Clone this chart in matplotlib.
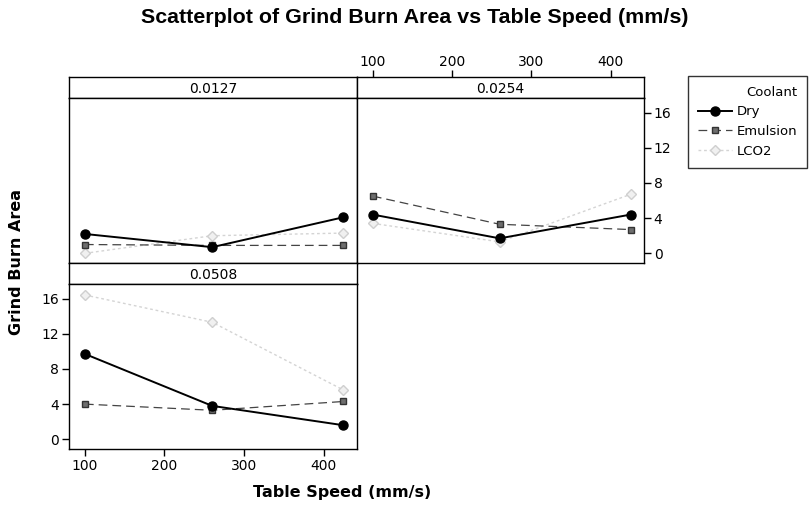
import matplotlib
matplotlib.use('Agg')
from matplotlib import pyplot
from matplotlib.lines import Line2D

# Data #
speed = [100, 260, 425]
feeds = ['0.0127', '0.0254', '0.0508']
coolants = ['Dry', 'Emulsion', 'LCO2']
dry_0127  = [2.2, 0.7, 4.1]
emul_0127 = [1.0, 0.9, 0.9]
lco2_0127 = [0.0, 2.0, 2.3]
dry_0254  = [4.4, 1.7, 4.4]
emul_0254 = [6.5, 3.3, 2.7]
lco2_0254 = [3.4, 1.3, 6.7]
dry_0508  = [9.7, 3.8, 1.6]
emul_0508 = [4.0, 3.3, 4.3]
lco2_0508 = [16.4, 13.3, 5.6]
panels = {'0.0127': (dry_0127, emul_0127, lco2_0127),
          '0.0254': (dry_0254, emul_0254, lco2_0254),
          '0.0508': (dry_0508, emul_0508, lco2_0508)}
x_ticks = [100, 200, 300, 400]
y_ticks = [0, 4, 8, 12, 16]

# Styles #
styles = {
    'Dry':      dict(color='black', ls='-', lw=1.4, marker='o', ms=6.5, mfc='black', mec='black', zorder=5),
    'Emulsion': dict(color='#444444', ls=(0, (7, 4)), lw=0.9, marker='s', ms=4.5, mfc='#6e6e6e', mec='#333333', zorder=4),
    'LCO2':     dict(color='#d4d4d4', ls=(0, (2, 2)), lw=1.0, marker='D', ms=5.5, mfc='#f0f0f0', mec='#cfcfcf', zorder=3),
}

W, H = 812.0, 505.0
xlim = (80, 442)
ylim = (-1.1, 17.65)
cols = [(69, 357), (357, 644)]
rows = [(77, 98, 263), (263, 284, 449)]
layout = {'0.0127': (0, 0), '0.0254': (0, 1), '0.0508': (1, 0)}

def rect(x0, x1, y0, y1):
    return [x0 / W, 1 - y1 / H, (x1 - x0) / W, (y1 - y0) / H]

fig = pyplot.figure(figsize=(W / 100, H / 100), dpi=100)
fig.patch.set_facecolor('white')

for feed in feeds:
    r, c = layout[feed]
    x0, x1 = cols[c]
    s0, p0, p1 = rows[r]
    # Strip #
    strip = fig.add_axes(rect(x0, x1, s0, p0))
    strip.set_xlim(xlim)
    strip.set_ylim(0, 1)
    strip.set_yticks([])
    strip.text(0.5, 0.45, feed, transform=strip.transAxes, ha='center', va='center', fontsize=10)
    if feed == '0.0254':
        strip.xaxis.tick_top()
        strip.set_xticks(x_ticks)
        strip.tick_params(axis='x', direction='out', length=5, width=1, labelsize=10, pad=1)
    else:
        strip.set_xticks([])
    for sp in strip.spines.values(): sp.set_linewidth(1.0)
    # Plot area #
    axes = fig.add_axes(rect(x0, x1, p0, p1))
    axes.set_xlim(xlim)
    axes.set_ylim(ylim)
    for name, vals in zip(coolants, panels[feed]):
        axes.plot(speed, vals, **styles[name])
    for sp in axes.spines.values(): sp.set_linewidth(1.0)
    axes.tick_params(direction='out', length=5, width=1, labelsize=10, pad=2)
    if feed == '0.0127':
        axes.set_xticks([])
        axes.set_yticks([])
    elif feed == '0.0254':
        axes.set_xticks([])
        axes.yaxis.tick_right()
        axes.set_yticks(y_ticks)
    else:
        axes.set_xticks(x_ticks)
        axes.set_yticks(y_ticks)

# Titles and labels #
fig.text(415 / W, 1 - 23 / H, 'Scatterplot of Grind Burn Area vs Table Speed (mm/s)',
         ha='center', va='baseline', fontsize=15.4, fontweight='bold', family='Liberation Sans')
fig.text(342 / W, 1 - 492 / H, 'Table Speed (mm/s)', ha='center', va='center',
         fontsize=11.5, fontweight='bold')
fig.text(17 / W, 1 - 262 / H, 'Grind Burn Area', ha='center', va='center',
         rotation=90, fontsize=11.5, fontweight='bold')

# Legend #
handles = [Line2D([], [], **{k: v for k, v in styles[n].items() if k != 'zorder'}) for n in coolants]
leg = fig.legend(handles, coolants, title='Coolant', loc='upper left',
                 bbox_to_anchor=(688 / W, 1 - 76 / H), borderaxespad=0,
                 fontsize=9.5, title_fontsize=9.5,
                 frameon=True, fancybox=False, edgecolor='black', handlelength=2.55,
                 handletextpad=0.4, borderpad=0.75, labelspacing=0.5, alignment='right')
leg.get_frame().set_linewidth(1.0)

fig.savefig('out.png', dpi=100)
